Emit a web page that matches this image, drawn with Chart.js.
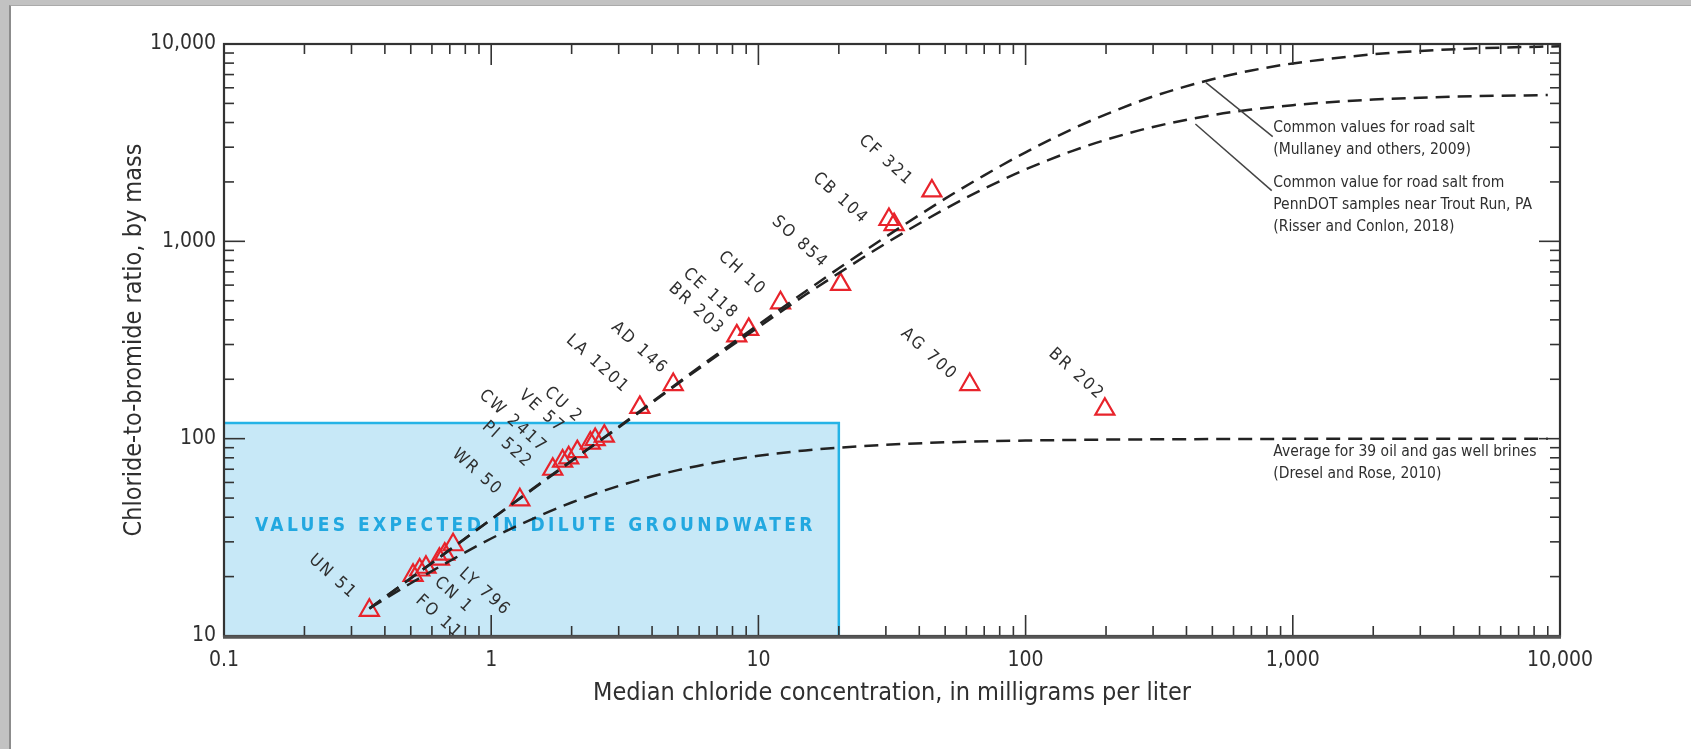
<!DOCTYPE html>
<html lang="en">
<head>
<meta charset="UTF-8" />
<title>Chloride-to-bromide ratio vs median chloride</title>
<script src="https://cdn.jsdelivr.net/npm/chart.js"></script>
<style>
  html, body { margin: 0; padding: 0; background: #c2c2c2; overflow: hidden; }
  .page {
    position: absolute; left: 9px; top: 5px; right: 0; bottom: 0;
    background: #fff; border-left: 2px solid #8c8c8c; border-top: 1px solid #aaa;
  }
  #chart { position: absolute; left: 0; top: 0; }
</style>
</head>
<body>
<div class="page"></div>
<canvas id="chart" width="1691" height="749"></canvas>
<script>
const FONT = "'Liberation Sans Narrow', 'DejaVu Sans Condensed', 'Arial Narrow', sans-serif";
const TEXT = "#2f2f2f";

// sampled sites: median chloride (mg/L) and Cl/Br ratio
const siteNames = ["UN 51", "FO 11", "CN 1", "LY 796", "WR 50", "PI 522", "CW 2417", "VE 57", "CU 2",
  "LA 1201", "AD 146", "BR 203", "CE 118", "CH 10", "SO 854", "CB 104", "CF 321", "AG 700", "BR 202"];
const siteChloride = [0.35, 0.51, 0.54, 0.64, 1.28, 1.70, 1.95, 2.35, 2.65,
  3.6, 4.8, 8.3, 9.2, 12.1, 20.3, 30.8, 44.6, 61.8, 198];
const siteRatio = [13.5, 20.3, 21.6, 24.5, 49, 70, 80, 95, 103,
  144, 188, 332, 358, 488, 605, 1290, 1800, 188, 141];

// overlapping triangles with no label of their own
const extraChloride = [0.57, 0.67, 0.72, 1.85, 2.1, 2.45, 32.2];
const extraRatio = [22.3, 26, 29, 77, 86, 99, 1215];

// mixing lines
const roadSaltX = [0.35, 0.5, 0.7, 1, 2, 3, 5, 7, 10, 15, 20, 30, 50, 70, 100, 150, 200, 300, 500, 700, 1000, 2000, 3000, 5000, 10000];
const roadSaltY = [13.8, 19.6, 27.4, 39, 77, 115, 192, 268, 378, 557, 730, 1055, 1645, 2160, 2825, 3715, 4400, 5420, 6630, 7340, 7970, 8870, 9220, 9515, 9750];
const pennDotX = [0.35, 0.5, 0.7, 1, 2, 3, 5, 7, 10, 15, 20, 30, 50, 70, 100, 150, 200, 300, 500, 700, 1000, 2000, 3000, 5000, 9000];
const pennDotY = [13.8, 19.6, 27.3, 39, 77.5, 114, 190, 263, 367, 536, 690, 977, 1460, 1850, 2315, 2875, 3270, 3800, 4360, 4655, 4900, 5230, 5345, 5445, 5510];
const brineX = [0.35, 0.5, 0.7, 1, 1.5, 2, 3, 5, 7, 10, 15, 20, 30, 50, 100, 200, 500, 1000, 9000];
const brineY = [13.8, 18.5, 24, 31.2, 40.4, 47.5, 57.6, 69.3, 76, 81.9, 87.2, 90, 93.1, 95.8, 97.8, 98.9, 99.5, 99.8, 100];

// shaded range for dilute groundwater
const boxChloride = [0.1, 20];
const boxRatio = [10, 120];

const xMajor = [0.1, 1, 10, 100, 1000, 10000];
const xTickLabels = ["0.1", "1", "10", "100", "1,000", "10,000"];
const yMajor = [10, 100, 1000, 10000];
const yTickLabels = ["10", "100", "1,000", "10,000"];
const minorSteps = [2, 3, 4, 5, 6, 7, 8, 9];

// label placement next to each triangle: [dx, dy, which end of the text sits there]
const labelPlace = [
  [-15, -14, "end"], [5, 23, "start"], [17, 10, "start"], [22, 12, "start"],
  [-20, -7, "end"], [-23, -4, "end"], [-24, -8, "end"], [-28, -13, "end"], [-24, -16, "end"],
  [-13, -17, "end"], [-8, -13, "end"], [-15, -4, "end"], [-13, -13, "end"], [-17, -10, "end"],
  [-15, -19, "end"], [-23, 2, "end"], [-21, -8, "end"], [-15, -7, "end"], [-3, -12, "end"],
];

const notes = [
  { x: 845, y: 3770, lines: ["Common values for road salt", "(Mullaney and others, 2009)"], leader: [[473, 6370], [841, 3390]] },
  { x: 845, y: 1975, lines: ["Common value for road salt from", "PennDOT samples near Trout Run, PA", "(Risser and Conlon, 2018)"], leader: [[432, 3930], [834, 1806]] },
  { x: 845, y: 86, lines: ["Average for 39 oil and gas well brines", "(Dresel and Rose, 2010)"], leader: null },
];

function withMinors(majors) {
  const out = [];
  majors.forEach((m, i) => {
    out.push(m);
    if (i < majors.length - 1) minorSteps.forEach((s) => out.push(m * s));
  });
  return out;
}

const toPoints = (xs, ys) => xs.map((v, i) => ({ x: v, y: ys[i] }));

const LABEL_ANGLE = 42 * Math.PI / 180;

// blue box + its caption, under everything else
const dilutePlugin = {
  id: "dilute",
  beforeDatasetsDraw(chart) {
    const { ctx, scales: { x, y } } = chart;
    const x0 = x.getPixelForValue(boxChloride[0]);
    const x1 = x.getPixelForValue(boxChloride[1]);
    const y0 = y.getPixelForValue(boxRatio[0]);
    const y1 = y.getPixelForValue(boxRatio[1]);
    ctx.save();
    ctx.fillStyle = "#c7e8f7";
    ctx.fillRect(x0, y1, x1 - x0, y0 - y1);
    ctx.strokeStyle = "#25b3e6";
    ctx.lineWidth = 2.5;
    ctx.beginPath();
    ctx.moveTo(x0, y1);
    ctx.lineTo(x1, y1);
    ctx.lineTo(x1, y0);
    ctx.stroke();
    ctx.fillStyle = "#22a8e0";
    ctx.font = `bold 19px ${FONT}`;
    ctx.letterSpacing = "3.4px";
    ctx.textAlign = "center";
    ctx.textBaseline = "middle";
    ctx.fillText("VALUES EXPECTED IN DILUTE GROUNDWATER", (x0 + x1) / 2 + 4, y.getPixelForValue(36));
    ctx.restore();
  },
};

const labelPlugin = {
  id: "siteLabels",
  afterDatasetsDraw(chart) {
    const { ctx } = chart;
    const meta = chart.getDatasetMeta(3);
    ctx.save();
    ctx.font = `17px ${FONT}`;
    ctx.letterSpacing = "2.2px";
    ctx.fillStyle = TEXT;
    ctx.textBaseline = "middle";
    siteNames.forEach((name, i) => {
      const el = meta.data[i];
      const [dx, dy, side] = labelPlace[i];
      ctx.save();
      ctx.translate(el.x + dx, el.y + dy);
      ctx.rotate(LABEL_ANGLE);
      ctx.textAlign = side === "start" ? "left" : "right";
      ctx.fillText(name, 0, 0);
      ctx.restore();
    });
    ctx.restore();
  },
};

// frame on all four sides with inward ticks, plus the notes on the right
const framePlugin = {
  id: "frame",
  afterDraw(chart) {
    const { ctx, chartArea: a, scales: { x, y } } = chart;
    const seg = (x1, y1, x2, y2) => { ctx.beginPath(); ctx.moveTo(x1, y1); ctx.lineTo(x2, y2); ctx.stroke(); };
    ctx.save();
    ctx.strokeStyle = "#333";
    ctx.lineWidth = 1.6;
    x.ticks.forEach((t) => {
      const px = x.getPixelForValue(t.value);
      if (px < a.left + 2 || px > a.right - 2) return;
      const len = xMajor.includes(t.value) ? 21 : 10;
      seg(px, a.bottom, px, a.bottom - len);
      seg(px, a.top, px, a.top + len);
    });
    y.ticks.forEach((t) => {
      const py = y.getPixelForValue(t.value);
      if (py < a.top + 2 || py > a.bottom - 2) return;
      const len = yMajor.includes(t.value) ? 21 : 10;
      seg(a.left, py, a.left + len, py);
      seg(a.right, py, a.right - len, py);
    });
    ctx.lineWidth = 2.2;
    ctx.strokeStyle = "#333";
    ctx.strokeRect(a.left, a.top, a.right - a.left, a.bottom - a.top);
    ctx.strokeStyle = "#555";
    ctx.lineWidth = 3.5;
    seg(a.left - 1, a.bottom + 1, a.right + 1, a.bottom + 1);

    // notes
    ctx.font = `15.5px ${FONT}`;
    ctx.letterSpacing = "0px";
    ctx.fillStyle = TEXT;
    ctx.textAlign = "left";
    ctx.textBaseline = "middle";
    notes.forEach((n) => {
      const nx = x.getPixelForValue(n.x);
      const ny = y.getPixelForValue(n.y);
      n.lines.forEach((line, i) => ctx.fillText(line, nx, ny + i * 22));
      if (n.leader) {
        ctx.strokeStyle = "#444";
        ctx.lineWidth = 1.5;
        const [p, q] = n.leader;
        seg(x.getPixelForValue(p[0]), y.getPixelForValue(p[1]), x.getPixelForValue(q[0]), y.getPixelForValue(q[1]));
      }
    });
    ctx.restore();
  },
};

const dashed = (data) => ({
  data,
  showLine: true,
  pointRadius: 0,
  borderColor: "#222",
  borderWidth: 2.5,
  borderDash: [14, 8],
  fill: false,
  cubicInterpolationMode: "monotone",
  order: 1,
});

const triangles = (data) => ({
  data,
  pointStyle: "triangle",
  pointRadius: 11,
  pointBorderWidth: 2.2,
  pointBorderColor: "#e8232b",
  pointBackgroundColor: "rgba(0,0,0,0)",
  showLine: false,
  order: 2,
});

const xAll = withMinors(xMajor);
const yAll = withMinors(yMajor);

new Chart(document.getElementById("chart"), {
  type: "scatter",
  data: {
    datasets: [
      dashed(toPoints(roadSaltX, roadSaltY)),
      dashed(toPoints(pennDotX, pennDotY)),
      dashed(toPoints(brineX, brineY)),
      triangles(toPoints(siteChloride, siteRatio)),
      triangles(toPoints(extraChloride, extraRatio)),
    ],
  },
  options: {
    responsive: false,
    animation: false,
    events: [],
    layout: { padding: { top: 44, right: 131, bottom: 0, left: 0 } },
    plugins: { legend: { display: false }, tooltip: { enabled: false } },
    scales: {
      x: {
        type: "logarithmic",
        min: 0.1,
        max: 10000,
        afterBuildTicks: (scale) => { scale.ticks = xAll.map((v) => ({ value: v })); },
        afterFit: (scale) => { scale.height = 113; },
        grid: { display: false, drawTicks: false },
        border: { display: false },
        ticks: {
          autoSkip: false,
          maxRotation: 0,
          padding: 12,
          color: TEXT,
          font: { family: FONT, size: 21 },
          callback: (v) => { const i = xMajor.indexOf(v); return i >= 0 ? xTickLabels[i] : ""; },
        },
        title: {
          display: true,
          text: "Median chloride concentration, in milligrams per liter",
          color: TEXT,
          font: { family: FONT, size: 25 },
          padding: { top: 0, bottom: 41 },
        },
      },
      y: {
        type: "logarithmic",
        min: 10,
        max: 10000,
        afterBuildTicks: (scale) => { scale.ticks = yAll.map((v) => ({ value: v })); },
        afterFit: (scale) => { scale.width = 224; },
        grid: { display: false, drawTicks: false },
        border: { display: false },
        ticks: {
          autoSkip: false,
          padding: 8,
          color: TEXT,
          font: { family: FONT, size: 21 },
          callback: (v) => { const i = yMajor.indexOf(v); return i >= 0 ? yTickLabels[i] : ""; },
        },
        title: {
          display: true,
          text: "Chloride-to-bromide ratio, by mass",
          color: TEXT,
          font: { family: FONT, size: 25 },
          padding: { top: 119, bottom: 0 },
        },
      },
    },
  },
  plugins: [dilutePlugin, labelPlugin, framePlugin],
});
</script>
</body>
</html>
